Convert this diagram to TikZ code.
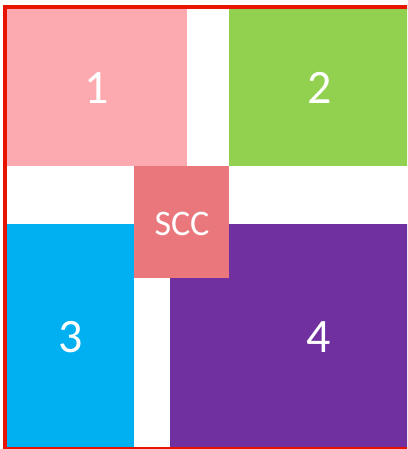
\documentclass[tikz,border=0pt]{standalone}
\usepackage{fontspec}
\setmainfont{Carlito}
\definecolor{pinkA}{RGB}{253,169,176}
\definecolor{greenA}{RGB}{146,208,80}
\definecolor{blueA}{RGB}{0,176,240}
\definecolor{purpleA}{RGB}{112,48,160}
\definecolor{sccA}{RGB}{233,119,124}
\definecolor{frameA}{RGB}{230,20,0}
\tikzset{
  big/.style={text=white, font=\fontsize{48}{48}\selectfont, anchor=base, inner sep=0pt},
  small/.style={text=white, font=\fontsize{36}{36}\selectfont, anchor=base, inner sep=0pt},
}
\begin{document}
\begin{tikzpicture}[x=1pt,y=-1pt]
\useasboundingbox (0,0) rectangle (407,449);
\clip (0,0) rectangle (407,449);
\draw[frameA, line width=4pt] (5,7) -- (5,448.5) -- (430,448.5);
\draw[frameA, line width=4pt] (3,7) -- (430,7);
\fill[pinkA] (7,9) rectangle (187,166);
\fill[greenA] (229,9) rectangle (420,166);
\fill[blueA] (7,224) rectangle (134,447);
\fill[purpleA] (170,224) rectangle (420,447);
\fill[sccA] (134,166) rectangle (229,278);
\node[big] (n1) at (97,104) {1};
\node[big] (n2) at (320,104) {2};
\node[big] (n3) at (70.5,352.5) {3};
\node[big] (n4) at (319,352.5) {4};
\node[small] (scc) at (182,235) {SCC};
\end{tikzpicture}
\end{document}
